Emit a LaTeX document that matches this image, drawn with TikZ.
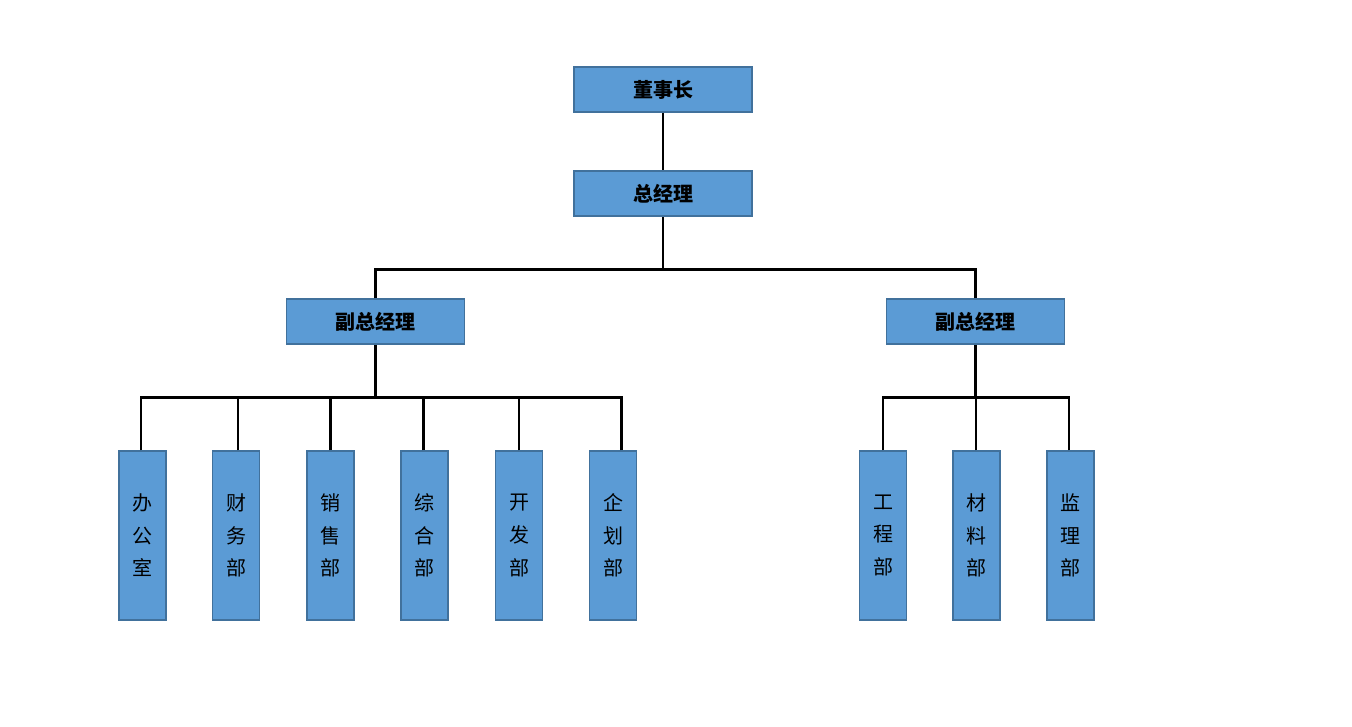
\documentclass[tikz,border=0pt]{standalone}
\usepackage{fontspec}
\newfontfamily\cjk{Noto Sans CJK SC}
\definecolor{boxfill}{HTML}{5B9BD5}
\definecolor{boxline}{HTML}{41719C}
\usetikzlibrary{positioning}

\begin{document}
\begin{tikzpicture}[x=0.75pt, y=-0.75pt, line width=2.2pt]
        \tikzstyle{head}=[draw=boxline, line width=1pt, fill=boxfill, text=black, font=\cjk\bfseries\fontsize{15}{18}\selectfont, minimum width=133.5pt, minimum height=33.75pt, inner sep=0pt]
        \tikzstyle{dept}=[draw=boxline, line width=1pt, fill=boxfill, text=black, font=\cjk\fontsize{15}{24.4}\selectfont, align=center, minimum width=35.25pt, minimum height=126.75pt, inner sep=0pt]

        \useasboundingbox (0,0) rectangle (1352,727);

        \node[head]    (chair)                 at (663,89.5)  {董事长};
        \node[head]    (gm)                    at (663,193.5) {总经理};
        \node[head]    (vpL)                   at (375.5,321.5) {副总经理};
        \node[head]    (vpR)                   at (975.5,321.5) {副总经理};

        % left branch
        \node[dept]    (office)   at (142.5,535.5) {办\\公\\室};
        \node[dept]    (finance)  at (236,535.5)   {财\\务\\部};
        \node[dept]    (sales)    at (330.5,535.5) {销\\售\\部};
        \node[dept]    (general)  at (424.5,535.5) {综\\合\\部};
        \node[dept]    (develop)  at (519,535.5)   {开\\发\\部};
        \node[dept]    (plan)     at (613,535.5)   {企\\划\\部};

        % right branch
        \node[dept]    (eng)      at (883,535.5)   {工\\程\\部};
        \node[dept]    (material) at (976.5,535.5) {材\\料\\部};
        \node[dept]    (super)    at (1070.5,535.5) {监\\理\\部};

        \draw (chair) -- (gm);
        \draw (vpL.north) -- ++(0,-29) -| (gm.south);
        \draw (vpR.north) -- ++(0,-29) -| (gm.south);

        \foreach \d/\s in {office/-1.5, finance/2, sales/0, general/-1, develop/0, plan/8.5}
            \draw ([xshift=\s*0.75pt]\d.north) -- ++(0,-53) -| (vpL.south);
        \foreach \d/\s in {eng/0, material/-0.5, super/-1.5}
            \draw ([xshift=\s*0.75pt]\d.north) -- ++(0,-53) -| (vpR.south);
\end{tikzpicture}
\end{document}
